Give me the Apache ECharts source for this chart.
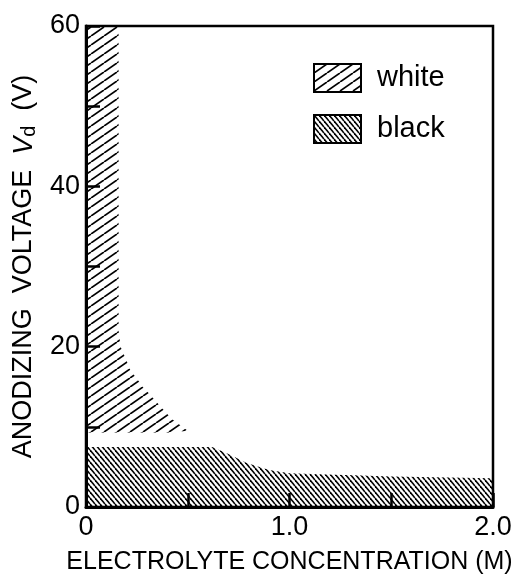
<!DOCTYPE html>
<html>
<head>
<meta charset="utf-8">
<script src="https://cdn.jsdelivr.net/npm/echarts@6/dist/echarts.min.js"></script>
<style>
  html, body { margin: 0; padding: 0; background: #fff; }
  #chart { width: 526px; height: 580px; }
</style>
</head>
<body>
<div id="chart"></div>
<script>
// region boundaries
const whiteX = [0, 0.16, 0.16, 0.17, 0.22, 0.28, 0.35, 0.42, 0.5];
const whiteY = [60, 60, 22, 20, 17, 15, 13, 11, 9.5];
const whiteBase = 9.3;
const blackX = [0, 0.62, 0.7, 0.79, 0.9, 1.0, 1.5, 2.0];
const blackY = [7.5, 7.5, 6.6, 5.5, 4.6, 4.2, 3.8, 3.6];
const xTicks = [0, 1.0, 2.0];
const yTicks = [0, 20, 40, 60];

const FONT = "Liberation Sans";

function hatch(w, h, dir, lw) {
  const c = document.createElement("canvas");
  c.width = w;
  c.height = h;
  const g = c.getContext("2d");
  g.strokeStyle = "#000";
  g.lineWidth = lw;
  for (const o of [-w, 0, w]) {
    g.beginPath();
    if (dir > 0) {
      g.moveTo(o, h);
      g.lineTo(o + w, 0);
    } else {
      g.moveTo(o, 0);
      g.lineTo(o + w, h);
    }
    g.stroke();
  }
  return { image: c, repeat: "repeat" };
}

const whiteFill = hatch(13, 9, 1, 1.7);
const blackFill = hatch(5, 6, -1, 1.6);

function pairs(xs, ys) {
  return xs.map(function (x, i) { return [x, ys[i]]; });
}

const chart = echarts.init(document.getElementById("chart"));
chart.setOption({
  animation: false,
  backgroundColor: "#fff",
  grid: {
    left: 86, right: 33, top: 26, bottom: 67,
    show: true, borderColor: "#000", borderWidth: 2.5,
    backgroundColor: "transparent"
  },
  legend: {
    orient: "vertical",
    left: 313, top: 63,
    padding: 0,
    itemGap: 21,
    itemWidth: 47, itemHeight: 28,
    textStyle: { fontFamily: FONT, fontSize: 29, color: "#000", padding: [0, 0, 0, 11] },
    data: [
      { name: "white", icon: "rect", itemStyle: { color: whiteFill, borderColor: "#000", borderWidth: 2 } },
      { name: "black", icon: "rect", itemStyle: { color: blackFill, borderColor: "#000", borderWidth: 2 } }
    ]
  },
  xAxis: {
    type: "value",
    min: 0, max: 2, interval: 0.5,
    name: "ELECTROLYTE CONCENTRATION (M)",
    nameLocation: "middle",
    nameGap: 43,
    nameTextStyle: { fontFamily: FONT, fontSize: 25, color: "#000" },
    axisLine: { lineStyle: { color: "#000", width: 3 } },
    axisTick: { inside: true, length: 14, lineStyle: { color: "#000", width: 2.5 } },
    axisLabel: {
      fontFamily: FONT, fontSize: 27, color: "#000", margin: 7,
      formatter: function (v) {
        if (xTicks.indexOf(v) < 0) return "";
        return v === 0 ? "0" : v.toFixed(1);
      }
    },
    splitLine: { show: false }
  },
  yAxis: {
    type: "value",
    min: 0, max: 60, interval: 10,
    name: "ANODIZING  VOLTAGE  {v|V}{d|d}  (V)",
    nameLocation: "middle",
    nameRotate: 90,
    nameGap: 47,
    nameTextStyle: {
      fontFamily: FONT, fontSize: 27, color: "#000",
      rich: {
        v: { fontFamily: FONT, fontSize: 27, fontStyle: "italic", color: "#000" },
        d: { fontFamily: FONT, fontSize: 20, color: "#000", verticalAlign: "bottom", padding: [10, 0, 0, 0] }
      }
    },
    axisLine: { lineStyle: { color: "#000", width: 3 } },
    axisTick: { inside: true, length: 14, lineStyle: { color: "#000", width: 2.5 } },
    axisLabel: {
      fontFamily: FONT, fontSize: 27, color: "#000", margin: 6,
      formatter: function (v) { return yTicks.indexOf(v) >= 0 ? String(v) : ""; }
    },
    splitLine: { show: false }
  },
  series: [
    {
      name: "white",
      type: "line",
      data: pairs(whiteX, whiteY),
      showSymbol: false,
      lineStyle: { width: 0 },
      itemStyle: { color: "#000" },
      areaStyle: { color: whiteFill, opacity: 1, origin: whiteBase },
      z: 1
    },
    {
      name: "black",
      type: "line",
      data: pairs(blackX, blackY),
      showSymbol: false,
      lineStyle: { width: 0 },
      itemStyle: { color: "#000" },
      areaStyle: { color: blackFill, opacity: 1, origin: "start" },
      z: 1
    }
  ]
});
</script>
</body>
</html>
